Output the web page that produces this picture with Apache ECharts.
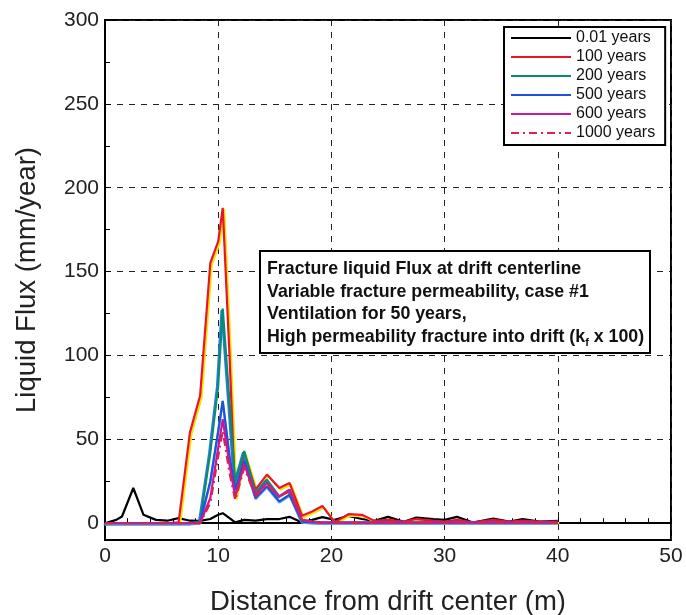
<!DOCTYPE html>
<html>
<head>
<meta charset="utf-8">
<script src="https://cdn.jsdelivr.net/npm/echarts@6/dist/echarts.min.js"></script>
<style>
  html, body { margin: 0; padding: 0; background: #fff; }
  #main { width: 686px; height: 615px; }
</style>
</head>
<body>
<div id="main"></div>
<script>
// distance from drift center (m), shared by all curves
const distance = [0, 1, 1.5, 2.5, 3.4, 4.5, 5.5, 6.5, 7.5, 8.4,
  9.3, 10, 10.4, 11, 11.5, 12.3, 13.3, 14.3, 15.4, 16.3,
  17.4, 18.3, 19.2, 20.3, 21.5, 22.7, 23.8, 25, 26.4, 27.5,
  29, 30, 31.1, 32.5, 34.3, 35.7, 36.9, 38.4, 40]

// liquid flux (mm/year)
const flux001 = [0, 2, 4, 21, 5, 2, 1.5, 3, 1.5, 1.4,
  2.5, 5, 6, 3, 0.5, 2, 1.5, 2.4, 2.5, 3.8,
  0.5, 2, 3.6, 2, 4.4, 2.5, 1.4, 3.8, 0.8, 3.4,
  2.4, 2, 3.8, 0.4, 2.8, 1, 2.4, 1, 1.4]
const flux100 = [0, 0, 0, 0, 0, 0, 0, 0.5, 54, 76,
  155, 168, 188, 100, 15, 42, 20, 29, 21, 24,
  4.5, 7, 10.3, 0.5, 5.4, 5, 1.4, 2, 1, 2.5,
  1.5, 1, 2, 0.5, 2, 1, 1.5, 1, 1]
const flux200 = [0, 0, 0, 0, 0, 0, 0, 0, 0, 1,
  42, 82, 128, 72, 24, 43, 18, 26, 16, 20,
  2, 1, 0.5, 0.3, 0.3, 0.3, 0.3, 0.3, 0.3, 0.3,
  0.3, 0.3, 0.3, 0.3, 0.3, 0.3, 0.3, 0.3, 0.3]
const flux500 = [0, 0, 0, 0, 0, 0, 0, 0, 0, 0.5,
  25, 55, 73, 40, 20, 37, 15, 22, 13, 17,
  1, 0.5, 0.3, 0.3, 0.3, 0.3, 0.3, 0.3, 0.3, 0.3,
  0.3, 0.3, 0.3, 0.3, 0.3, 0.3, 0.3, 0.3, 0.3]
const flux600 = [0, 0, 0, 0, 0, 0, 0, 0, 0, 0,
  15, 45, 62, 35, 16, 35, 17, 24, 16, 20,
  2, 1, 0.3, 0.3, 0.3, 0.3, 0.3, 0.3, 0.3, 0.3,
  0.3, 0.3, 0.3, 0.3, 0.3, 0.3, 0.3, 0.3, 0.3]
const flux1000 = [0, 0, 0, 0, 0, 0, 0, 0, 0, 0,
  12, 40, 55, 30, 14, 33, 16, 23, 16, 19,
  2, 1, 0.3, 0.3, 0.3, 0.3, 0.3, 0.3, 0.3, 0.3,
  0.3, 0.3, 0.3, 0.3, 0.3, 0.3, 0.3, 0.3, 0.3]

const seriesNames = ['0.01 years', '100 years', '200 years', '500 years', '600 years', '1000 years']
const yTicks = [0, 50, 100, 150, 200, 250, 300]
const yMinorTicks = [25, 75, 125, 175, 225, 275]

const noteLines = [
  'Fracture liquid Flux at drift centerline',
  'Variable fracture permeability, case #1',
  'Ventilation for 50 years,',
  'High permeability fracture into drift (k{sub|f} x 100)'
]

function pairs (ys) {
  return distance.map((x, i) => [x, ys[i]])
}

const font = 'Liberation Sans, Arial, sans-serif'

// 每条曲线的样式
function line (name, ys, color, extra) {
  return Object.assign({
    name: name,
    type: 'line',
    symbol: 'none',
    data: pairs(ys),
    lineStyle: { color: color, width: 2.2 },
    itemStyle: { color: color }
  }, extra || {})
}

const chart = echarts.init(document.getElementById('main'))
chart.setOption({
  backgroundColor: '#fff',
  animation: false,
  grid: {
    left: 105, right: 15, top: 20, bottom: 75,
    outerBoundsMode: 'none',
    show: true, borderColor: '#000', borderWidth: 2
  },
  legend: {
    data: seriesNames,
    orient: 'vertical',
    left: 504, top: 27,
    padding: [3, 10, 4, 6],
    itemWidth: 60, itemHeight: 14, itemGap: 3,
    backgroundColor: '#fff',
    borderColor: '#000', borderWidth: 2,
    // 图例里不要圆点，只留线
    itemStyle: { opacity: 0 },
    textStyle: { fontFamily: font, fontSize: 16, color: '#111' }
  },
  xAxis: {
    type: 'value',
    min: 0, max: 50, interval: 10,
    name: 'Distance from drift center (m)',
    nameLocation: 'middle',
    nameGap: 48,
    nameTextStyle: { fontFamily: font, fontSize: 27.5, color: '#222' },
    axisLine: { lineStyle: { color: '#000', width: 2 } },
    axisTick: { inside: true, length: 6, lineStyle: { color: '#000' } },
    minorTick: { show: true, splitNumber: 5, length: 5, lineStyle: { color: '#000' } },
    axisLabel: { fontFamily: font, fontSize: 21, color: '#222', margin: 6 },
    splitLine: { show: true, lineStyle: { color: '#222', type: [6, 6], width: 1 } }
  },
  yAxis: [
    {
      type: 'value',
      min: -10, max: 300,
      name: 'Liquid Flux (mm/year)',
      nameLocation: 'middle',
      nameGap: 64,
      nameTextStyle: { fontFamily: font, fontSize: 27.5, color: '#222' },
      axisLine: { lineStyle: { color: '#000', width: 2 } },
      axisTick: { inside: true, length: 6, customValues: yTicks, lineStyle: { color: '#000' } },
      axisLabel: { fontFamily: font, fontSize: 21, color: '#222', margin: 6, customValues: yTicks },
      splitLine: {
        show: true,
        lineStyle: { color: '#222', type: [6, 6], width: 1 }
      }
    },
    {
      // 只画次刻度
      type: 'value',
      min: -10, max: 300,
      position: 'left',
      axisLine: { show: false },
      axisTick: { inside: true, length: 5, customValues: yMinorTicks, lineStyle: { color: '#000' } },
      axisLabel: { show: false },
      splitLine: { show: false }
    }
  ],
  graphic: [
    {
      type: 'rect',
      left: 259, top: 250,
      shape: { width: 390, height: 102 },
      style: { fill: '#fff', stroke: '#000', lineWidth: 2 },
      z: 50
    },
    {
      type: 'text',
      left: 267, top: 258,
      z: 51,
      style: {
        text: noteLines.join('\n'),
        fontFamily: font,
        fontSize: 17.8,
        fontWeight: 'bold',
        lineHeight: 22.5,
        fill: '#111',
        rich: {
          sub: { fontFamily: font, fontSize: 11, fontWeight: 'bold', fill: '#111', verticalAlign: 'bottom', lineHeight: 16 }
        }
      }
    }
  ],
  series: [
    line('0.01 years', flux001, '#000000'),
    line('100 years', flux100, '#e8142c', {
      lineStyle: { color: '#e8142c', width: 2.2, shadowColor: '#f2e400', shadowOffsetX: 1.5, shadowOffsetY: 1.5 },
      z: 3
    }),
    line('200 years', flux200, '#0a8c74', {
      lineStyle: { color: '#0a8c74', width: 2.2, shadowColor: '#2a7be0', shadowOffsetX: -1.2, shadowOffsetY: 1.2 }
    }),
    line('500 years', flux500, '#2050d8', {
      lineStyle: { color: '#2050d8', width: 2.2, shadowColor: '#5aa8f0', shadowOffsetX: 0, shadowOffsetY: 1.2 }
    }),
    line('600 years', flux600, '#c8189c'),
    line('1000 years', flux1000, '#e02050', {
      lineStyle: { color: '#e02050', width: 2.2, type: [8, 4, 2, 4] }
    })
  ]
})
</script>
</body>
</html>
